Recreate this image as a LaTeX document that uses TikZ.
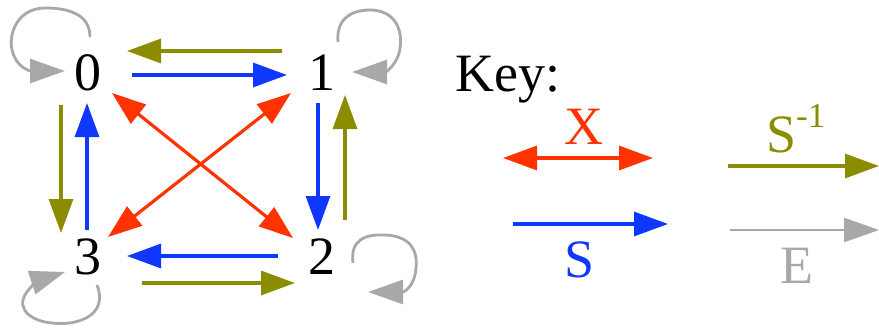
\documentclass[tikz,border=0pt]{standalone}
\usepackage{fontspec}
\newfontfamily\timesfont{Liberation Serif}
\usetikzlibrary{arrows.meta,calc}
\definecolor{cred}{HTML}{FF3300}
\definecolor{cblue}{HTML}{0F38FF}
\definecolor{colive}{HTML}{8C8C00}
\definecolor{cgray}{HTML}{A8A8A8}
\tikzset{
  lbl/.style={inner sep=0pt, font=\timesfont\fontsize{54}{60}\selectfont},
  arr/.style={line width=3.2pt, -{Triangle[length=34pt,width=24pt]}},
  xarr/.style={line width=3.2pt, cred, {Triangle[length=34pt,width=24pt]}-{Triangle[length=34pt,width=24pt]}},
  sarr/.style={arr, cblue},
  iarr/.style={arr, colive},
  earr/.style={line width=2.8pt, cgray, -{Triangle[length=35pt,width=24pt]}},
}
\begin{document}
\begin{tikzpicture}[x=1pt,y=-1pt]
\useasboundingbox (0,0) rectangle (879,329);
\node[lbl] (n0) at (88,73) {0};
\node[lbl] (n1) at (322,73) {1};
\node[lbl] (n2) at (322,257) {2};
\node[lbl] (n3) at (88,257) {3};
% horizontal pairs
\draw[iarr] ($(n1)+(-40,-22)$) -- ($(n0)+(39,-22)$);
\draw[sarr] ($(n0)+(44,2)$) -- ($(n1)+(-35,2)$);
\draw[sarr] ($(n2)+(-44,-1)$) -- ($(n3)+(39,-1)$);
\draw[iarr] ($(n3)+(54,26)$) -- ($(n2)+(-27,26)$);
% vertical pairs
\draw[iarr] ($(n0)+(-27,32)$) -- ($(n3)+(-27,-24)$);
\draw[sarr] ($(n3)+(-1,-27)$) -- ($(n0)+(-1,30)$);
\draw[sarr] ($(n1)+(-4,30)$) -- ($(n2)+(-4,-27)$);
\draw[iarr] ($(n2)+(23,-37)$) -- ($(n1)+(23,22)$);
% diagonals
\draw[xarr] ($(n0)+(24,20)$) -- ($(n2)+(-29,-19)$);
\draw[xarr] ($(n1)+(-31,20)$) -- ($(n3)+(20,-20)$);
% self loops
\draw[earr] ($(n0)+(2,-36)$) .. controls ($(n0)+(2,-58)$) and ($(n0)+(-18,-65)$) .. ($(n0)+(-43,-65)$)
  .. controls ($(n0)+(-73,-65)$) and ($(n0)+(-83,-33)$) .. ($(n0)+(-73,-15)$)
  .. controls ($(n0)+(-68,-5)$) and ($(n0)+(-58,-2)$) .. ($(n0)+(-23,-2)$);
\draw[earr] ($(n1)+(16,-31)$) .. controls ($(n1)+(14,-53)$) and ($(n1)+(28,-63)$) .. ($(n1)+(48,-63)$)
  .. controls ($(n1)+(73,-63)$) and ($(n1)+(81,-43)$) .. ($(n1)+(78,-25)$)
  .. controls ($(n1)+(76,-8)$) and ($(n1)+(63,-1)$) .. ($(n1)+(30,-1)$);
\draw[earr] ($(n2)+(31,6)$) .. controls ($(n2)+(28,-17)$) and ($(n2)+(43,-23)$) .. ($(n2)+(63,-22)$)
  .. controls ($(n2)+(88,-21)$) and ($(n2)+(96,-7)$) .. ($(n2)+(94,11)$)
  .. controls ($(n2)+(93,28)$) and ($(n2)+(83,35)$) .. ($(n2)+(46,35)$);
\draw[earr] ($(n3)+(9,28)$) .. controls ($(n3)+(15,43)$) and ($(n3)+(12,61)$) .. ($(n3)+(-18,66)$)
  .. controls ($(n3)+(-48,69)$) and ($(n3)+(-68,58)$) .. ($(n3)+(-65,43)$)
  .. controls ($(n3)+(-63,33)$) and ($(n3)+(-48,23)$) .. ($(n3)+(-23,15)$);
% key
\node[lbl, anchor=base west] (key) at (455,92) {Key:};
\coordinate (kxa) at (503,158);
\coordinate (kxb) at (653,158);
\draw[xarr] (kxa) -- (kxb);
\node[lbl, anchor=base, text=cred] (kx) at (584,144) {X};
\coordinate (ksa) at (513,224);
\coordinate (ksb) at (668,224);
\draw[sarr] (ksa) -- (ksb);
\node[lbl, anchor=base, text=cblue] (ks) at (580,277) {S};
\coordinate (kia) at (728,166);
\coordinate (kib) at (879,166);
\draw[iarr] (kia) -- (kib);
\node[lbl, anchor=base west, text=colive] (ki) at (766,153) {S\raisebox{25pt}{\fontsize{35}{35}\selectfont -1}};
\coordinate (kea) at (730,230);
\coordinate (keb) at (879,230);
\draw[earr] (kea) -- (keb);
\node[lbl, anchor=base, text=cgray] (ke) at (797,283) {E};
\end{tikzpicture}
\end{document}
